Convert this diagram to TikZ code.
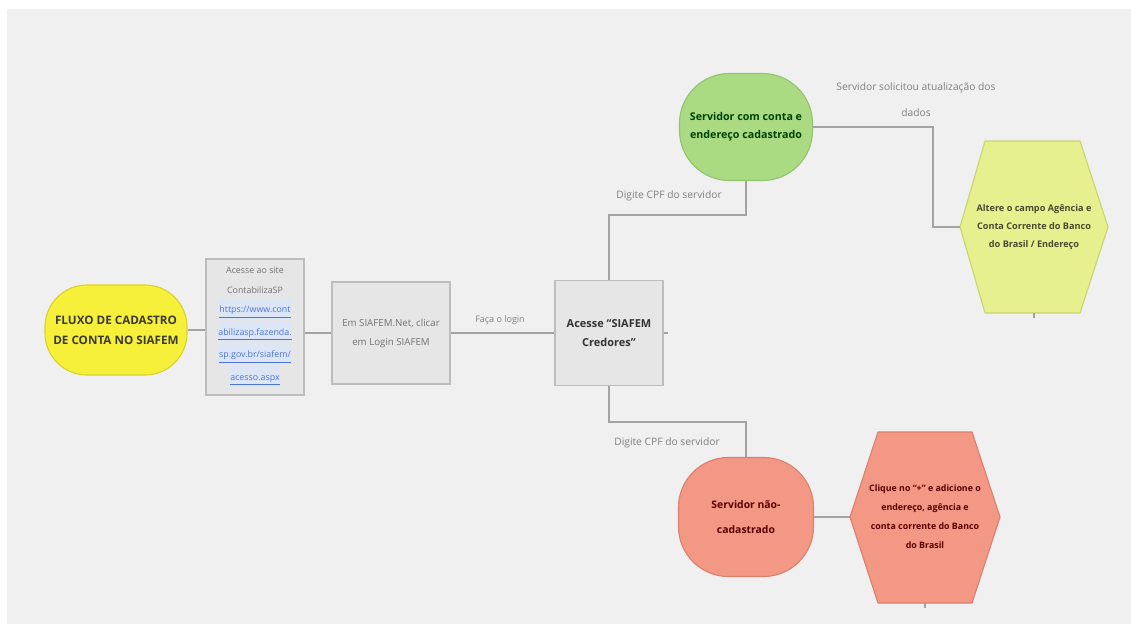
\documentclass[tikz,border=0pt]{standalone}
\usepackage{fontspec}
\setmainfont{Open Sans}
\usetikzlibrary{calc}
\definecolor{PageGray}{HTML}{F0F0F0}
\definecolor{EdgeGray}{HTML}{A3A3A3}
\definecolor{BoxFill}{HTML}{E6E6E6}
\definecolor{BoxLine}{HTML}{BDBDBD}
\definecolor{StartFill}{HTML}{F7F03A}
\definecolor{StartLine}{HTML}{D9D22E}
\definecolor{GreenFill}{HTML}{AADA82}
\definecolor{GreenLine}{HTML}{93C46E}
\definecolor{RedFill}{HTML}{F29884}
\definecolor{RedLine}{HTML}{DA806C}
\definecolor{LimeFill}{HTML}{E6F08E}
\definecolor{LimeLine}{HTML}{CAD470}
\definecolor{LinkBlue}{HTML}{4F74D8}
\definecolor{LinkBg}{HTML}{DCE6F7}
\newcommand{\linkline}[1]{\colorbox{LinkBg}{\strut\underline{#1}}}
\begin{document}
\begin{tikzpicture}[x=0.025cm,y=-0.025cm,
    Link/.style={draw=EdgeGray,line width=0.9pt},
    GrayBox/.style={draw=BoxLine,fill=BoxFill,line width=0.8pt,align=center,text=black!55},
    RoundBox/.style={line width=0.8pt,align=center,rounded corners=1.25cm,font=\bfseries},
    HexPath/.style={line width=0.8pt,line join=round},
    HexText/.style={align=center,font=\fontsize{6.5}{12.6}\selectfont\bfseries},
    EdgeLabel/.style={text=black!50,align=center,font=\fontsize{7.3}{13}\selectfont}]
  \useasboundingbox (0,0) rectangle (1131,624);
  \fill[PageGray] (7,9) rectangle (1131,624);% background sheet

  % start and the two grey steps
  \node[RoundBox,draw=StartLine,fill=StartFill,text=black!80!yellow!60!black,
        minimum width=3.55cm,minimum height=2.25cm,rounded corners=1.05cm,
        font=\fontsize{8.3}{14}\selectfont\bfseries] (Start) at (116,330)
        {FLUXO DE CADASTRO\\DE CONTA NO SIAFEM};
  \node[GrayBox,minimum width=2.45cm,minimum height=3.4cm,inner sep=1pt,
        font=\fontsize{6.3}{13.9}\selectfont] (SiteBox) at (255,327)
        {Acesse ao site\\ContabilizaSP\\
         \color{LinkBlue}\setlength{\fboxsep}{0.5pt}\linkline{https://www.cont}\\
         \color{LinkBlue}\setlength{\fboxsep}{0.5pt}\linkline{abilizasp.fazenda.}\\
         \color{LinkBlue}\setlength{\fboxsep}{0.5pt}\linkline{sp.gov.br/siafem/}\\
         \color{LinkBlue}\setlength{\fboxsep}{0.5pt}\linkline{acesso.aspx}};
  \node[GrayBox,minimum width=2.95cm,minimum height=2.55cm,
        font=\fontsize{6.9}{13.5}\selectfont] (LoginBox) at (391,333)
        {Em SIAFEM.Net, clicar\\em Login SIAFEM};
  \node[GrayBox,minimum width=2.7cm,minimum height=2.625cm,text=black!80,
        font=\fontsize{7.8}{14}\selectfont\bfseries] (Credores) at (609,333)
        {Acesse ``SIAFEM\\Credores''};

  % the two outcomes
  \node[RoundBox,draw=GreenLine,fill=GreenFill,text=green!25!black,
        minimum width=3.325cm,minimum height=2.675cm,
        font=\fontsize{7.6}{12.8}\selectfont\bfseries] (ComConta) at (746,127)
        {Servidor com conta e\\endereço cadastrado};
  \node[RoundBox,draw=RedLine,fill=RedFill,text=red!35!black,
        minimum width=3.375cm,minimum height=2.975cm,
        font=\fontsize{7.4}{17.5}\selectfont\bfseries] (NaoCadastrado) at (746,517)
        {Servidor não-\\cadastrado};

  % hexagons
  \coordinate (AltereC) at (1034,227);
  \coordinate (AltereW) at ($(AltereC)+(-74,0)$);
  \coordinate (AltereS) at ($(AltereC)+(0,86)$);
  \draw[HexPath,draw=LimeLine,fill=LimeFill] (AltereW) -- ++(25,-86) -- ++(95,0)
    -- ($(AltereC)+(74,0)$) -- ++(-28,86) -- ++(-95,0) -- cycle;
  \node[HexText,text=olive!40!black] (Altere) at (AltereC)
    {Altere o campo Agência e\\Conta Corrente do Banco\\do Brasil / Endereço};

  \coordinate (CliqueC) at (925,517);
  \coordinate (CliqueW) at ($(CliqueC)+(-75,0)$);
  \coordinate (CliqueS) at ($(CliqueC)+(0,86)$);
  \draw[HexPath,draw=RedLine,fill=RedFill] (CliqueW) -- ++(28,-85) -- ++(94,0)
    -- ($(CliqueC)+(75,0)$) -- ++(-28,86) -- ++(-94,0) -- cycle;
  \node[HexText,text=red!35!black,font=\fontsize{6.3}{13.5}\selectfont\bfseries] (Clique) at (CliqueC)
    {Clique no ``+'' e adicione o\\endereço, agência e\\conta corrente do Banco\\do Brasil};

  % connectors
  \draw[Link] (Start.east) -- (Start.east -| SiteBox.west);
  \draw[Link] (LoginBox.west -| SiteBox.east) -- (LoginBox.west);
  \draw[Link] (LoginBox) -- (Credores);
  \node[EdgeLabel,font=\fontsize{6.4}{8}\selectfont] (LoginLabel) at (500,320) {Faça o login};
  \coordinate (TopKnee) at (746,215);
  \draw[Link] (Credores.north) |- (TopKnee) -- (ComConta.south);
  \node[EdgeLabel] (TopLabel) at (669,196) {Digite CPF do servidor};
  \coordinate (BotKnee) at (746,422);
  \draw[Link] (Credores.south) |- (BotKnee) -- (NaoCadastrado.north);
  \node[EdgeLabel] (BotLabel) at (667,443) {Digite CPF do servidor};
  \coordinate (RightKnee) at (933,227);
  \draw[Link] (ComConta.east) -| (RightKnee) -- (AltereW);
  \node[EdgeLabel,font=\fontsize{7.3}{18.5}\selectfont] (UpdateLabel) at (916,100)
    {Servidor solicitou atualização dos\\dados};
  \draw[Link] (NaoCadastrado.east) -- (CliqueW);
  % little stubs left by the editor
  \draw[Link] (Credores.east) -- ++(4,0);
  \draw[Link] (AltereS) -- ++(0,5);
  \draw[Link] (CliqueS) -- ++(0,5);
\end{tikzpicture}
\end{document}
